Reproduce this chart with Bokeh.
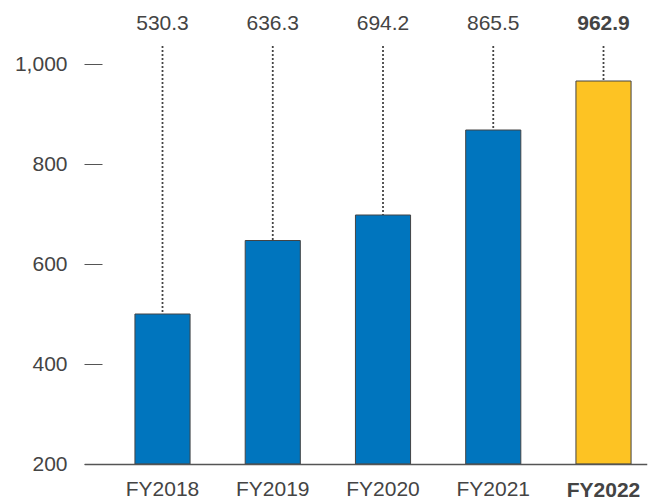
from bokeh.plotting import figure
from bokeh.models import ColumnDataSource, Range1d, FixedTicker, NumeralTickFormatter
from bokeh.core.properties import value
from bokeh.embed import file_html
from bokeh.resources import INLINE

# ---- data ----
categories = ["FY2018", "FY2019", "FY2020", "FY2021", "FY2022"]
bar_values = [500, 647, 698, 868, 966]          # drawn bar heights
label_values = ["530.3", "636.3", "694.2", "865.5", "962.9"]  # printed labels
bar_colors = ["#0075BE", "#0075BE", "#0075BE", "#0075BE", "#FDC323"]
label_styles = ["normal", "normal", "normal", "normal", "bold"]
y_ticks = [200, 400, 600, 800, 1000]
BASE = 200

FONT = "Liberation Sans"
FS = "21px"
TXT = "#444444"

xs = list(range(len(categories)))
bold_idx = [i for i, s in enumerate(label_styles) if s == "bold"]
src = ColumnDataSource(dict(
    x=xs, top=bar_values, color=bar_colors, lab=label_values,
    style=label_styles, y_lab=[1083] * len(xs), y_line=[1036] * len(xs),
))
bold_src = ColumnDataSource(dict(
    x=bold_idx, y=[149] * len(bold_idx), lab=[categories[i] for i in bold_idx],
))

p = figure(
    frame_width=563, frame_height=493,
    x_range=Range1d(-0.7075, 4.399), y_range=Range1d(125, 1111),
    output_backend="svg", toolbar_location=None,
    min_border_left=84, min_border_right=2, min_border_top=8, min_border_bottom=0,
)
p.outline_line_color = None
p.xgrid.grid_line_color = None
p.ygrid.grid_line_color = None
p.background_fill_color = "white"
p.border_fill_color = "white"

p.vbar(x="x", top="top", bottom=BASE, width=0.5, source=src,
       fill_color="color", line_color="#444444", line_width=1)
p.segment(x0="x", y0="y_line", x1="x", y1="top", source=src,
          line_color="#444444", line_width=1.8, line_dash="2 2")
p.text(x="x", y="y_lab", text="lab", source=src,
       text_font=value(FONT), text_font_size=FS, text_color=TXT,
       text_font_style="style", text_align="center", text_baseline="middle")
p.text(x="x", y="y", text="lab", source=bold_src,
       text_font=value(FONT), text_font_size=FS, text_color=TXT,
       text_font_style="bold", text_align="center", text_baseline="middle")

# y axis
ya = p.yaxis[0]
ya.ticker = FixedTicker(ticks=y_ticks)
ya.formatter = NumeralTickFormatter(format="0,0")
ya.axis_line_color = None
ya.major_tick_in = 18
ya.major_tick_out = 0
ya.major_tick_line_color = "#555555"
ya.major_tick_line_width = 1
ya.minor_tick_line_color = None
ya.major_label_standoff = 17
ya.major_label_text_font = FONT
ya.major_label_text_font_size = FS
ya.major_label_text_color = TXT

# x axis, drawn at the 200 baseline
xa = p.xaxis[0]
xa.fixed_location = BASE
xa.ticker = FixedTicker(ticks=xs)
xa.major_label_overrides = {i: (c if label_styles[i] == "normal" else " ")
                            for i, c in enumerate(categories)}
xa.axis_line_color = "#555555"
xa.axis_line_width = 1.5
xa.major_tick_line_color = None
xa.minor_tick_line_color = None
xa.major_tick_out = 0
xa.major_tick_in = 0
xa.major_label_standoff = 13
xa.major_label_text_font = FONT
xa.major_label_text_font_size = FS
xa.major_label_text_color = TXT

open("out.html", "w").write(file_html(p, INLINE))
